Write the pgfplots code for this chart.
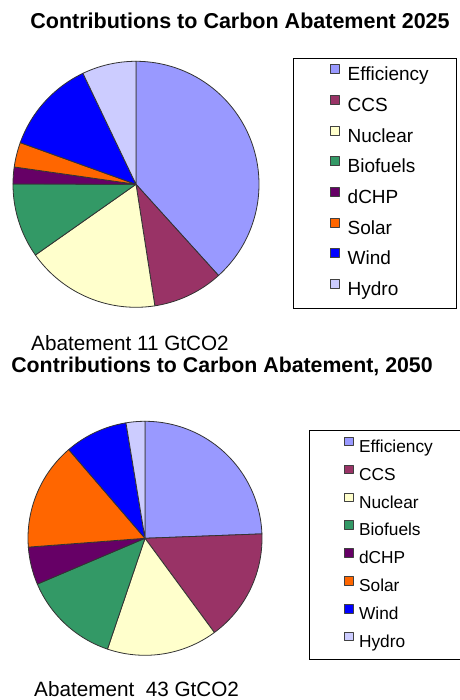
\documentclass[border=0pt]{standalone}
\usepackage{pgfplots}
\pgfplotsset{compat=1.18}
\usepackage{fontspec}
\setmainfont{Liberation Sans}

\definecolor{ceff}{HTML}{9999FF}
\definecolor{cccs}{HTML}{993366}
\definecolor{cnuc}{HTML}{FFFFCC}
\definecolor{cbio}{HTML}{339966}
\definecolor{cchp}{HTML}{660066}
\definecolor{csol}{HTML}{FF6600}
\definecolor{cwin}{HTML}{0000FF}
\definecolor{chyd}{HTML}{CCCCFF}

\newcommand\cum{0}
\newcommand{\pieslice}[3]{%
  \pgfmathsetmacro\slicea{\cum*3.6}%
  \pgfmathsetmacro\sliceb{(\cum+#2)*3.6}%
  \pgfmathsetmacro\newcum{\cum+#2}%
  \global\let\cum\newcum
  \edef\tmp{\noexpand\addplot[fill=#1, draw=black!80, line width=0.8pt, line join=round, domain=\slicea:\sliceb, samples=90] ({sin(x)},{cos(x)}) -- (axis cs:0,0) -- cycle;}%
  \tmp
  \addlegendentry{#3}%
}

\pgfplotsset{
  piestyle/.style={
    scale only axis, xmin=-1, xmax=1, ymin=-1, ymax=1,
    hide axis, clip=false,
    legend cell align=left,
  }
}

\begin{document}
\begin{tikzpicture}[x=1pt,y=1pt]
\path[use as bounding box] (0,0) rectangle (459,700);

% titles and labels
\node[anchor=base, font=\fontsize{21.5}{24}\selectfont\bfseries] at (240,671.3) {Contributions to Carbon Abatement 2025};
\node[anchor=base west, inner sep=0pt, font=\fontsize{20.7}{24}\selectfont] at (31,349.6) {Abatement 11 GtCO2};
\node[anchor=base, font=\fontsize{21.3}{24}\selectfont\bfseries] at (222,327.4) {Contributions to Carbon Abatement, 2050};
\node[anchor=base west, inner sep=0pt, font=\fontsize{20.7}{24}\selectfont] at (34,3.6) {Abatement\ \ 43 GtCO2};

% legend frames
\draw[line width=0.9pt] (293,392) rectangle (456,642);
\draw[line width=0.9pt] (309,41) rectangle (475,270);

% 2025 pie
\begin{axis}[piestyle, at={(13pt,392.7pt)}, anchor=south west, width=246pt, height=246pt,
  legend image code/.code={\draw[#1, line width=0.5pt, draw=black!75] (0pt,0.5pt) rectangle (9pt,9.5pt);},
  legend style={at={(axis description cs:1.2886,0.988)}, anchor=north west, draw=none, fill=none,
    inner sep=0pt, row sep=14.1pt, column sep=8pt,
    font=\fontsize{19}{22}\selectfont,
    nodes={inner sep=0pt, text height=13.6pt, text depth=0pt}}]
\pieslice{ceff}{38.3}{Efficiency}
\pieslice{cccs}{9.25}{CCS}
\pieslice{cnuc}{17.7}{Nuclear}
\pieslice{cbio}{9.8}{Biofuels}
\pieslice{cchp}{2.2}{dCHP}
\pieslice{csol}{3.25}{Solar}
\pieslice{cwin}{12.4}{Wind}
\pieslice{chyd}{7.1}{Hydro}
\end{axis}

\gdef\cum{0}
% 2050 pie
\begin{axis}[piestyle, at={(28pt,44.7pt)}, anchor=south west, width=234pt, height=234pt,
  legend image code/.code={\draw[#1, line width=0.5pt, draw=black!75] (0pt,0.5pt) rectangle (8.5pt,9pt);},
  legend style={at={(axis description cs:1.350,0.934)}, anchor=north west, draw=none, fill=none,
    inner sep=0pt, row sep=12.4pt, column sep=6pt,
    font=\fontsize{17.3}{20}\selectfont,
    nodes={inner sep=0pt, text height=12.4pt, text depth=0pt}}]
\pieslice{ceff}{24.4}{Efficiency}
\pieslice{cccs}{15.5}{CCS}
\pieslice{cnuc}{15.3}{Nuclear}
\pieslice{cbio}{13.4}{Biofuels}
\pieslice{cchp}{5.2}{dCHP}
\pieslice{csol}{14.9}{Solar}
\pieslice{cwin}{8.7}{Wind}
\pieslice{chyd}{2.6}{Hydro}
\end{axis}
\end{tikzpicture}
\end{document}
